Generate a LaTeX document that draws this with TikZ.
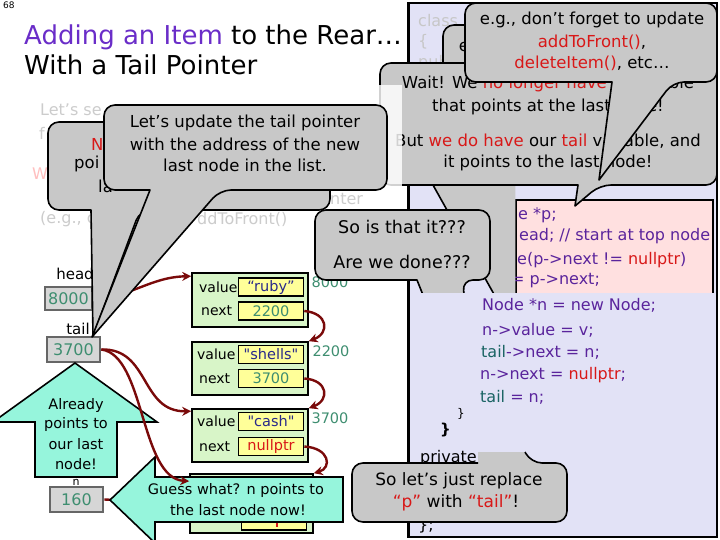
\documentclass[tikz,border=0pt]{standalone}
\usepackage{fontspec}
\setmainfont{DejaVu Sans}
\usetikzlibrary{arrows.meta}
\definecolor{cgray}{HTML}{C8C8C8}
\definecolor{aqua}{HTML}{96F5DC}
\definecolor{ngreen}{HTML}{D8F5C8}
\definecolor{fyellow}{HTML}{FFFF99}
\definecolor{lav}{HTML}{E2E2F6}
\definecolor{pinkb}{HTML}{FFE0E0}
\definecolor{tpurple}{HTML}{6A2DC8}
\definecolor{cpurple}{HTML}{5A249C}
\definecolor{cred}{HTML}{D81818}
\definecolor{teal}{HTML}{3E8E70}
\definecolor{ctail}{HTML}{1A6464}
\definecolor{arr}{HTML}{7A0A0A}
\definecolor{qblue}{HTML}{2A2A8A}
\begin{document}
\begin{tikzpicture}[x=1pt,y=-1pt,
  callout/.style={fill=cgray,draw=black,line width=1.6pt,line join=round},
  ct/.style={font=\fontsize{16.5}{18}\selectfont,inner sep=0pt},
  code/.style={font=\fontsize{16}{18}\selectfont,inner sep=0pt,anchor=west,text=cpurple},
  pcode/.style={font=\fontsize{16}{18}\selectfont,inner sep=0pt,anchor=west,text=cpurple},
  fade/.style={font=\fontsize{16}{18}\selectfont,inner sep=0pt,anchor=west,text=black!20},
  vbox/.style={fill=black!16,draw=black!60,line width=2.6pt,inner sep=0pt,text=teal,font=\fontsize{16}{16}\selectfont},
  vlabel/.style={font=\fontsize{15}{15}\selectfont,inner sep=0pt},
  lnode/.style={fill=ngreen,draw=black,line width=1.6pt,inner sep=0pt},
  field/.style={fill=fyellow,draw=black,line width=1.6pt,inner sep=0pt,minimum width=65pt,minimum height=18pt,font=\fontsize{14.5}{14.5}\selectfont},
  flabel/.style={font=\fontsize{14}{14}\selectfont,inner sep=0pt,anchor=west},
  addr/.style={font=\fontsize{14.5}{14.5}\selectfont,inner sep=0pt,text=teal},
  link/.style={draw=arr,line width=2.4pt,-{Stealth[length=9pt,width=9pt]}},
  bigarrow/.style={fill=aqua,draw=black,line width=1.6pt,line join=miter},
  arrtext/.style={font=\fontsize{14.5}{14.5}\selectfont,inner sep=0pt},
]
\useasboundingbox (0,0) rectangle (720,540);

% page number and title
\node[anchor=north west,inner sep=0pt,font=\fontsize{9}{9}\selectfont] (pg) at (3,2) {68};
\node[anchor=base west,inner sep=0pt,font=\fontsize{26}{26}\selectfont] (t1) at (24,45) {\textcolor{tpurple}{Adding an Item} to the Rear…};
\node[anchor=base west,inner sep=0pt,font=\fontsize{26}{26}\selectfont] (t2) at (24,75) {With a Tail Pointer};

% code box
\draw[fill=lav,line width=1.6pt] (408,3) rectangle (717,537);
\draw[line width=3pt] (408,3) -- (408,537);
\node[fade,text=black!22] (cls) at (418,21) {class};
\node[fade,text=black!22] (cbr) at (418,42) {\{};
\node[fade,text=black!22] (cpu) at (418,63) {public:};

% pink box
\draw[fill=pinkb,line width=1.6pt] (516,200) rectangle (713,300);
\node[pcode] (p1) at (518,215) {e *p;};
\node[pcode] (p2) at (519,236) {ead; // start at top node};
\node[pcode] (p3) at (517,260) {e(p->next != \textcolor{cred}{nullptr})};
\node[pcode] (p4) at (511,281) {= p->next;};

% wide gray tail
\fill[cgray] (433,186) -- (500,305) -- (515.4,305) -- (515.4,186) -- cycle;
\draw[line width=1.6pt] (433,185) -- (500,305);

% callout behind
\path[callout,rounded corners=11pt] (443,25) rectangle (530,100);
\node[ct] (etext) at (464,47) {e};

% Wait callout
\path[callout] (578,185) [rounded corners=11pt] -- (380,185) -- (380,63) -- (717,63) -- (717,185) -- (600,185) [sharp corners] -- (575,206) -- cycle;
\node[ct] (d1) at (548,84) {Wait! We \textcolor{cred}{no longer have} a variable};
\node[ct] (d2) at (548,107) {that points at the last node!};
\node[ct] (d3) at (548,141) {But \textcolor{cred}{we do have} our \textcolor{cred}{tail} variable, and};
\node[ct] (d4) at (548,163) {it points to the last node!};

% e.g. callout
\path[callout] (612,82) [rounded corners=11pt] -- (465,82) -- (465,3) -- (717,3) -- (717,82) -- (673,82) [sharp corners] -- (599,180) -- cycle;
\node[ct] (c1) at (592,20) {e.g., don’t forget to update};
\node[ct] (c2) at (592,42) {\textcolor{cred}{addToFront()},};
\node[ct] (c3) at (592,63) {\textcolor{cred}{deleteItem()}, etc…};

% faded layer
\fill[white,opacity=0.82] (0,85) rectangle (402,248);
\node[fade] (f1) at (40,110) {Let’s se};
\node[fade] (f2) at (39,133) {f};
\node[fade,text=red!25] (f3) at (32,174) {W};
\node[fade] (f4) at (40,219) {(e.g., c};
\node[fade] (f5) at (197,219) {ddToFront()};
\node[fade] (f6) at (330,199) {nter};

% variables
\node[vlabel] (headl) at (75,274) {head};
\node[vbox,minimum width=47pt,minimum height=23pt] (headbox) at (68.5,298.5) {8000};
\node[vlabel] (taill) at (78,329) {tail};
\node[vbox,minimum width=53pt,minimum height=25pt] (tailbox) at (73.5,349.5) {3700};
\node[vlabel,font=\fontsize{11}{11}\selectfont] (nl) at (76,482) {n};
\node[vbox,minimum width=53pt,minimum height=25pt] (nbox) at (76.5,499.5) {160};

% linked list
\node[lnode,minimum width=116pt,minimum height=54pt] (n1) at (250,300) {};
\node[flabel] (n1vl) at (199,287) {value};
\node[field] (n1v) at (271,287) {\textcolor{qblue}{“ruby”}};
\node[flabel] (n1nl) at (201,311) {next};
\node[field] (n1n) at (271,311) {\textcolor{teal}{2200}};

\node[lnode,minimum width=116pt,minimum height=53pt] (n2) at (250,368.5) {};
\node[flabel] (n2vl) at (197,354.5) {value};
\node[field] (n2v) at (271,354.5) {\textcolor{qblue}{\textquotedbl shells\textquotedbl}};
\node[flabel] (n2nl) at (199,378.5) {next};
\node[field] (n2n) at (271,378.5) {\textcolor{teal}{3700}};

\node[lnode,minimum width=116pt,minimum height=53pt] (n3) at (250,435.5) {};
\node[flabel] (n3vl) at (197,421.5) {value};
\node[field] (n3v) at (271,421.5) {\textcolor{qblue}{\textquotedbl cash\textquotedbl}};
\node[flabel] (n3nl) at (199,446.5) {next};
\node[field] (n3n) at (271,446.5) {\textcolor{cred}{nullptr}};

\node[lnode,minimum width=123pt,minimum height=59pt] (n4) at (251.5,503.5) {};
\node[field] (n4n) at (274,521) {};
\draw[cred,line width=1.4pt] (277,521) -- (277,527);

\node[addr] (a1) at (330,282) {8000};
\node[addr] (a2) at (331,351) {2200};
\node[addr] (a3) at (330,418) {3700};

\draw[link] (nbox.east) -- (n4.west);

% Guess what arrow
\path[bigarrow] (110,500) -- (155,457) -- (155,477) -- (343,477) -- (343,522) -- (155,522) -- (155,543) -- cycle;
\node[arrtext] (g1) at (236,490) {Guess what? n points to};
\node[arrtext] (g2) at (238,510) {the last node now!};

% Already arrow
\path[bigarrow] (75,363) -- (157,422) -- (117,422) -- (117,477) -- (35,477) -- (35,422) -- (-7,422) -- cycle;
\node[arrtext] (al1) at (76,405) {Already};
\node[arrtext] (al2) at (76,424) {points to};
\node[arrtext] (al3) at (76,444) {our last};
\node[arrtext] (al4) at (76,464) {node!};

% links
\draw[link] (headbox.east) .. controls (130,298) and (150,277) .. ([yshift=-4pt]n1.north west);
\draw[link] (n1n.east) .. controls (328,313) and (330,333) .. (n2.north east);
\draw[link] (n2n.east) .. controls (328,380) and (330,400) .. (n3.north east);
\draw[link] (n3n.east) .. controls (330,448) and (332,468) .. (n4.north east);
\draw[link] (tailbox.east) .. controls (150,348) and (140,412) .. ([yshift=-3pt]n3.north west);
\draw[link] (tailbox.east) .. controls (145,355) and (140,478) .. ([yshift=-8pt]n4.north west);

% callout A
\path[callout] (91,210) [rounded corners=11pt] -- (48,210) -- (48,122) -- (330,122) -- (330,210) -- (140,210) [sharp corners] -- (93,336) -- cycle;
\node[ct,text=cred,anchor=west] (aa1) at (91,144) {N};
\node[ct,anchor=west] (aa2) at (74,164) {poi};
\node[ct,anchor=west] (aa3) at (98,186) {la};

% callout B
\path[callout] (150,190) [rounded corners=11pt] -- (104,190) -- (104,105) -- (387,105) -- (387,190) -- (220,190) [sharp corners] -- (92,337) -- cycle;
\node[ct] (b1) at (245,123) {Let’s update the tail pointer};
\node[ct] (b2) at (245,144) {with the address of the new};
\node[ct] (b3) at (245,165) {last node in the list.};

% So is that it callout
\path[callout] (417,280) [rounded corners=11pt] -- (315,280) -- (315,210) -- (490,210) -- (490,280) -- (462,280) [sharp corners] -- (465,300) -- (425,300) -- cycle;
\node[ct,font=\fontsize{17.5}{18}\selectfont] (s1) at (402,227) {So is that it???};
\node[ct,font=\fontsize{17.5}{18}\selectfont] (s2) at (402,262) {Are we done???};

% new code panel
\fill[lav] (409.6,293) rectangle (715.8,535.8);
\node[code] (k1) at (482,305) {Node *n = new Node;};
\node[code] (k2) at (482,330) {n->value = v;};
\node[code] (k3) at (481,352) {\textcolor{ctail}{tail}->next = n;};
\node[code] (k4) at (480,375) {n->next = \textcolor{cred}{nullptr};};
\node[code] (k5) at (480,397) {\textcolor{ctail}{tail} = n;};
\node[code,text=black,font=\fontsize{12}{12}\selectfont] (k6) at (457,414) {\}};
\node[code,text=black,font=\bfseries\fontsize{15}{15}\selectfont] (k7) at (440,430) {\}};
\node[code,text=black] (k8) at (420,458) {private:};
\node[code,text=black] (k9) at (418,526) {\};};

% replace callout
\fill[cgray] (478,463) [rounded corners=11pt] -- (352,463) -- (352,522) -- (567,522) -- (567,463) -- (531,463) [sharp corners] -- (525,452) -- (478,452) -- cycle;
\draw[line width=1.6pt,line join=round] (478,463) [rounded corners=11pt] -- (352,463) -- (352,522) -- (567,522) -- (567,463) -- (531,463) [sharp corners] -- (525,452);
\node[ct,font=\fontsize{17}{18}\selectfont] (r1) at (459,481) {So let’s just replace};
\node[ct,font=\fontsize{17}{18}\selectfont] (r2) at (456,503) {\textcolor{cred}{“p”} with \textcolor{cred}{“tail”}!};
\end{tikzpicture}
\end{document}
